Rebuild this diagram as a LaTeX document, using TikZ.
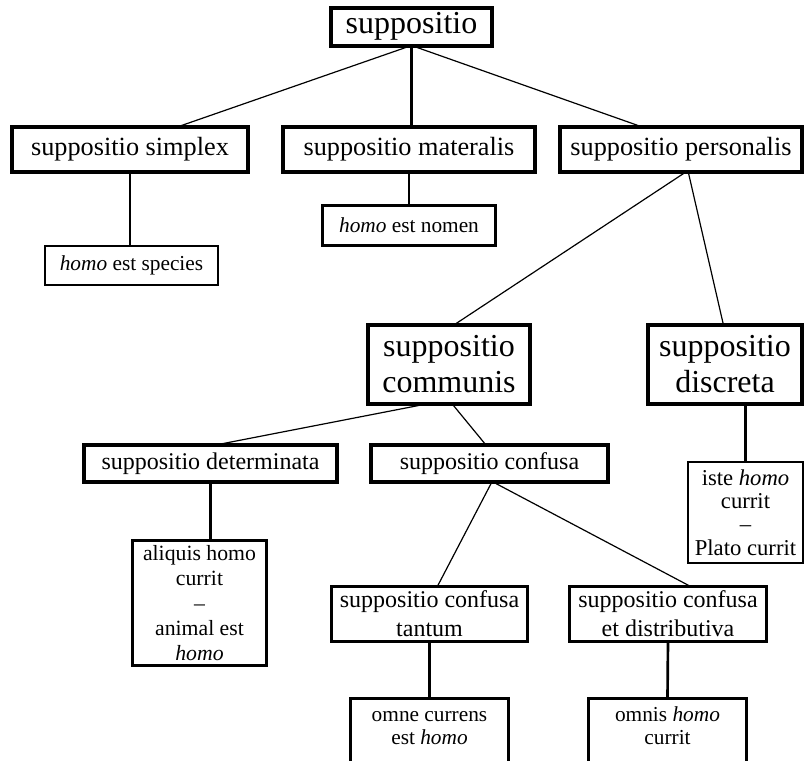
\documentclass[tikz,border=0pt]{standalone}
\usepackage{fontspec}
\setmainfont{Liberation Serif}
\usetikzlibrary{calc,backgrounds}
\newcommand\fza{\fontsize{24}{27}\selectfont}
\newcommand\fzb{\fontsize{19.7}{23}\selectfont}
\newcommand\fzc{\fontsize{18}{21.8}\selectfont}
\newcommand\fzd{\fontsize{16}{17.25}\selectfont}
\newcommand\fze{\fontsize{17}{17.5}\selectfont}
\newcommand\fzf{\fontsize{16.3}{18.75}\selectfont}
\begin{document}
\begin{tikzpicture}[x=0.75pt,y=-0.75pt,
  every node/.style={outer sep=0pt, inner sep=0pt, align=center, fill=white, text=black},
  sz/.style 2 args={minimum width=#1*0.75pt, minimum height=#2*0.75pt},
  thickbox/.style={draw, line width=3pt},
  medbox/.style={draw, line width=2.25pt},
  thinbox/.style={draw, line width=1.5pt},
  vline/.style={line width=2pt},
  dline/.style={line width=0.9pt}]
\useasboundingbox (0,0) rectangle (804,761);
\clip (0,0) rectangle (804,761);

% nodes
\node[thickbox, sz={161}{38}, font=\fza] (sup) at (411.5,26.5) {suppositio};
\node[thickbox, sz={236}{45}, font=\fzb] (simplex) at (130,149.5) {suppositio simplex};
\node[thickbox, sz={252}{45}, font=\fzb] (materalis) at (409,149.5) {suppositio materalis};
\node[thickbox, sz={242}{45}, font=\fzb] (personalis) at (681,149.5) {suppositio personalis};
\node[thinbox, sz={173}{39}, font=\fzd] (species) at (131.5,265.5) {\textit{homo} est species};
\node[medbox, sz={173}{40}, font=\fzd] (nomen) at (409,225.5) {\textit{homo} est nomen};
\node[thickbox, sz={162}{79}, font=\fza] (communis) at (449,364.5) {suppositio\\communis};
\node[thickbox, sz={154}{79}, font=\fza] (discreta) at (725,364.5) {suppositio\\discreta};
\node[thickbox, sz={253}{37}, font=\fzc] (determinata) at (210.5,463.5) {suppositio determinata};
\node[thickbox, sz={237}{37}, font=\fzc] (confusa) at (489.5,463.5) {suppositio confusa};
\node[thinbox, sz={115}{101}, font=\fze] (iste) at (745.5,512.5) {iste \textit{homo}\\currit\\\textendash\\Plato currit};
\node[medbox, sz={134}{125}, font=\fzf] (aliquis) at (199.5,603) {aliquis homo\\currit\\\textendash\\animal est\\\textit{homo}};
\node[medbox, sz={196}{55}, font=\fzc] (tantum) at (429.5,614) {suppositio confusa\\tantum};
\node[medbox, sz={197}{55}, font=\fzc] (distributiva) at (668,614) {suppositio confusa\\et distributiva};
\node[medbox, anchor=north, inner ysep=5.5pt, font=\fzd] (omne) at (429.5,698.5)
  {\parbox[t][80pt][t]{118.5pt}{\centering\strut omne currens\\est \textit{homo}}};
\node[medbox, anchor=north, inner ysep=5.5pt, font=\fzd] (omnis) at (667.5,698.5)
  {\parbox[t][80pt][t]{118.5pt}{\centering\strut omnis \textit{homo}\\currit}};

% connectors, drawn behind the boxes
\begin{scope}[on background layer]
\fill[white] (0,0) rectangle (804,761);
\draw[dline] (sup.south) -- ($(simplex.north west)!0.70!(simplex.north east)$);
\draw[vline] (sup.south) -- (sup.south |- materalis.north);
\draw[dline] (sup.south) -- ($(personalis.north west)!0.34!(personalis.north east)$);
\draw[vline] (simplex.south) -- (simplex.south |- species.north);
\draw[vline] (materalis.south) -- (nomen.north);
\draw[dline] ($(personalis.south west)!0.52!(personalis.south east)$) -- ($(communis.north west)!0.53!(communis.north east)$);
\draw[dline] ($(personalis.south west)!0.53!(personalis.south east)$) -- ($(discreta.north west)!0.49!(discreta.north east)$);
\draw[dline] ($(communis.south west)!0.36!(communis.south east)$) -- ($(determinata.north west)!0.52!(determinata.north east)$);
\draw[dline] ($(communis.south west)!0.52!(communis.south east)$) -- ($(confusa.north west)!0.485!(confusa.north east)$);
\draw[vline] (iste.north |- discreta.south) -- (iste.north);
\draw[vline] (determinata.south) -- (determinata.south |- aliquis.north);
\draw[dline] ($(confusa.south west)!0.51!(confusa.south east)$) -- ($(tantum.north west)!0.54!(tantum.north east)$);
\draw[dline] ($(confusa.south west)!0.515!(confusa.south east)$) -- ($(distributiva.north west)!0.615!(distributiva.north east)$);
\draw[vline] (tantum.south) -- (omne.north);
\draw[vline] (distributiva.south) -- (omnis.north);
\end{scope}
\end{tikzpicture}
\end{document}
